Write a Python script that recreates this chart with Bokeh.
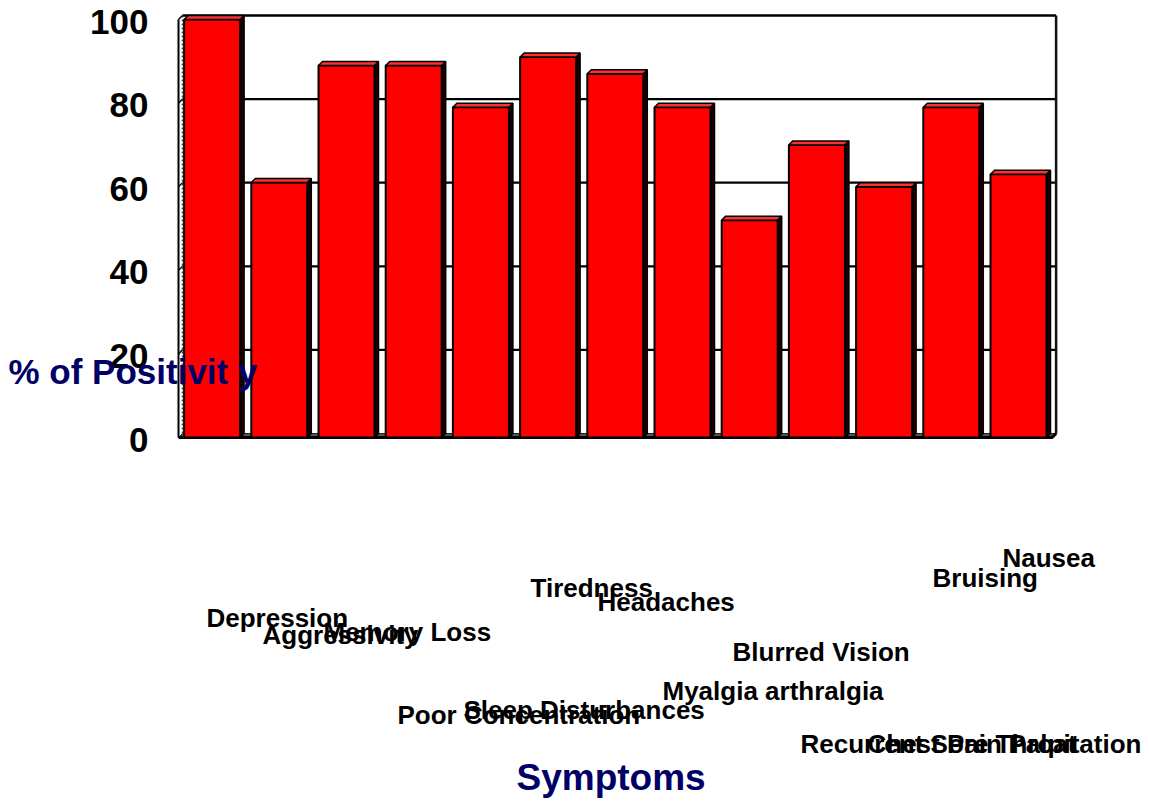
from bokeh.plotting import figure
from bokeh.models import Range1d, Label
from bokeh.core.properties import value
from bokeh.embed import file_html
from bokeh.resources import INLINE

# ---- data ----
values = [100, 61, 89, 89, 79, 91, 87, 79, 52, 70, 60, 79, 63]
symptoms = ["Depression", "Aggressivity", "Memory Loss", "Poor Concentration",
            "Sleep Disturbances", "Tiredness", "Headaches", "Myalgia arthralgia",
            "Blurred Vision", "Recurrent Sore Throat", "Chest Pain", "Palpitation",
            "Bruising", "Nausea"]
y_ticks = [0, 20, 40, 60, 80, 100]
y_tick_labels = ["0", "20", "40", "60", "80", "100"]
y_title = "%  of Positivit y"
x_title = "Symptoms"

# ---- layout geometry (canvas pixels) ----
W, H = 1149, 801
PX_X = 67.2      # pixels per category
PX_Y = 4.18      # pixels per percent
OX, OY = 178, 437
DX = 4 / PX_X    # 3D depth offset
DY = 4 / PX_Y
BAR_W = 56 / PX_X

# label anchor positions (canvas px: left x, baseline y)
label_pos = [(206, 617), (262, 634), (323, 631), (397, 714), (463, 709),
             (530, 587), (597, 601), (662, 690), (732, 651), (800, 743),
             (867, 743), (1008, 743), (932, 577), (1002, 557)]


def dx_(px):
    return (px - OX) / PX_X


def dy_(py):
    return (OY - py) / PX_Y


n = len(values)
p = figure(frame_width=W, frame_height=H,
           min_border_left=0, min_border_right=0,
           min_border_top=0, min_border_bottom=0,
           x_range=Range1d(dx_(0), dx_(W)),
           y_range=Range1d(dy_(H), dy_(0)),
           x_axis_location=None, y_axis_location=None,
           output_backend="svg", toolbar_location=None)
p.outline_line_color = None
p.xgrid.visible = False
p.ygrid.visible = False
p.background_fill_color = "white"
p.border_fill_color = "white"

# floor
p.patch([0, n, n + DX, DX], [0, 0, DY, DY], fill_color="#555555",
        line_color="#222222", line_width=1)

# back wall gridlines and left-wall marks
top = y_ticks[-1]
for t in y_ticks[1:-1]:
    p.line([DX, n + DX], [t + DY, t + DY], line_color="#000000", line_width=2.2)
    p.line([0, DX], [t, t + DY], line_color="#111111", line_width=1.5)

# frame lines
p.line([DX, n + DX], [top + DY, top + DY], line_color="black", line_width=2.5)
p.line([n + DX, n + DX], [DY, top + DY], line_color="#111111", line_width=2.5)
p.line([DX, DX], [DY, top + DY], line_color="#444444", line_width=1.5, line_dash="2 2")
p.line([0, 0], [0, top], line_color="black", line_width=2)
p.line([0, DX], [top, top + DY], line_color="black", line_width=1.5)
p.line([0, n, n + DX], [0, 0, DY], line_color="black", line_width=3)

# bars
lefts = [i + (1 - BAR_W) / 2 for i in range(n)]
rights = [l + BAR_W for l in lefts]
side_xs = [[r, r + DX, r + DX, r] for r in rights]
side_ys = [[0, DY, v + DY, v] for v in values]
top_xs = [[l, l + DX, r + DX, r] for l, r in zip(lefts, rights)]
top_ys = [[v, v + DY, v + DY, v] for v in values]

p.patches(side_xs, side_ys, fill_color="#1a0000", line_color="black", line_width=1.5)
p.quad(left=lefts, right=rights, bottom=0, top=values, fill_color="#ff0000",
       line_color="black", line_width=2)
p.patches(top_xs, top_ys, fill_color="#ff3030", line_color="black", line_width=1.5)

# y tick labels (placed with the y scale)
p.text(x=[dx_(148)] * len(y_ticks), y=y_ticks, text=y_tick_labels,
       text_font=value("Liberation Sans"), text_font_size="35px",
       text_font_style="bold", text_color="black",
       text_align="right", text_baseline="middle", y_offset=2)

# category labels
for name, (px, py) in zip(symptoms, label_pos):
    p.add_layout(Label(x=dx_(px), y=dy_(py), text=name, text_font="Liberation Sans",
                       text_font_size="26px", text_font_style="bold", text_color="black",
                       text_align="left", text_baseline="alphabetic"))

# titles
p.add_layout(Label(x=dx_(8), y=dy_(371), text=y_title, text_font="Liberation Sans",
                   text_font_size="35px", text_font_style="bold", text_color="#000066",
                   text_align="left", text_baseline="alphabetic"))
p.add_layout(Label(x=dx_(516), y=dy_(777), text=x_title, text_font="Liberation Sans",
                   text_font_size="37px", text_font_style="bold", text_color="#000066",
                   text_align="left", text_baseline="alphabetic"))

open("out.html", "w").write(file_html(p, INLINE))
